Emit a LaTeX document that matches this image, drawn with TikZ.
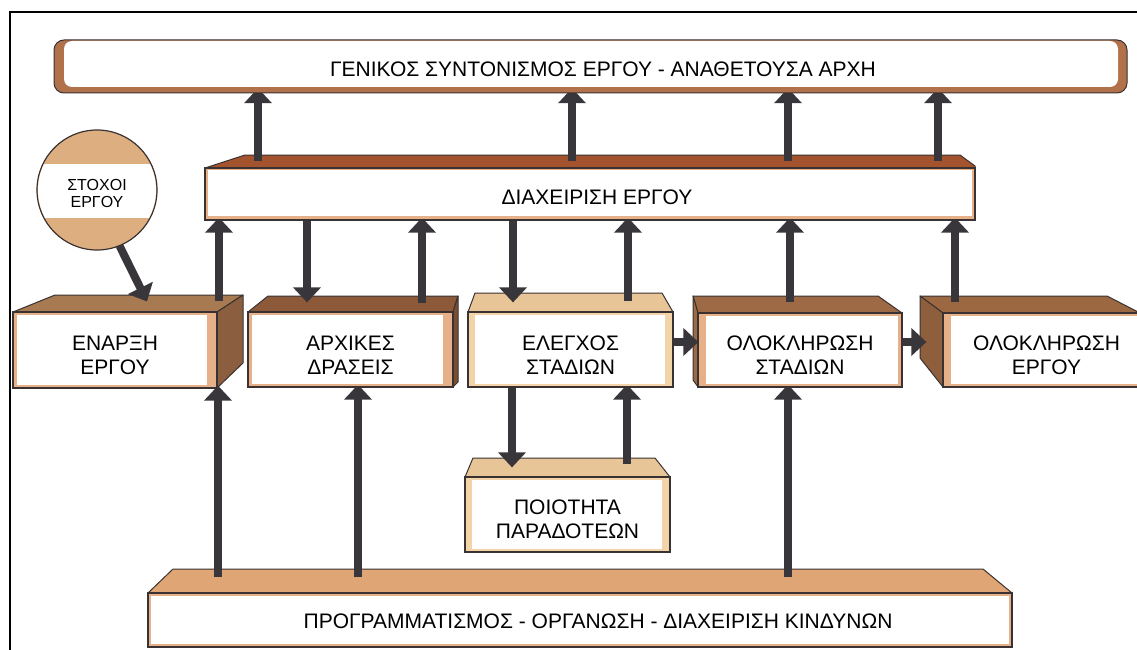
\documentclass[tikz,border=0pt]{standalone}
\usepackage{fontspec}
\setmainfont{Liberation Sans}
\usetikzlibrary{arrows.meta}
\pgfdeclarelayer{background}
\pgfdeclarelayer{foreground}
\pgfsetlayers{background,main,foreground}
\definecolor{dk}{HTML}{3A3232}
\definecolor{arrc}{HTML}{38363B}
\definecolor{genbr}{HTML}{B0714B}
\definecolor{diaxtop}{HTML}{A4532F}
\definecolor{enartop}{HTML}{A87A52}
\definecolor{enarside}{HTML}{8A5E3E}
\definecolor{arxtop}{HTML}{8C5A38}
\definecolor{arxside}{HTML}{7A4E30}
\definecolor{tantop}{HTML}{E8C596}
\definecolor{olstop}{HTML}{9E6A45}
\definecolor{olergtop}{HTML}{9C6842}
\definecolor{olergside}{HTML}{8E5F3C}
\definecolor{progtop}{HTML}{DFA574}
\definecolor{circ}{HTML}{DDAE80}
\definecolor{stripeB}{HTML}{E6B088}
\definecolor{stripeT}{HTML}{F2D4A8}
\newcommand{\upstrut}{\rule{0pt}{25pt}}
\begin{document}
\begin{tikzpicture}[x=1pt,y=-1pt,
  front/.style={draw=dk,line width=1.2pt,inner sep=0pt,align=center,font=\fontsize{21}{24}\selectfont},
  inset/.style n args={4}{path picture={\fill[white] ([xshift=#1,yshift=#4]path picture bounding box.south west) rectangle ([xshift=-#2,yshift=-#3]path picture bounding box.north east);}},
  face/.style={draw=dk,line width=1pt,line join=round},
  arr/.style={draw=arrc,line width=8pt,-{Triangle[width=27pt,length=15pt]}},
  bigtext/.style={font=\fontsize{21}{24}\selectfont,inner sep=0pt}]
\useasboundingbox (0,0) rectangle (1137,650);

% ---------- front faces (foreground) ----------
\begin{pgfonlayer}{foreground}
\fill[genbr,draw=dk,line width=1pt,rounded corners=10pt] (54,40) rectangle (1127,93);
\node[fill=white,rounded corners=8pt,minimum width=1054pt,minimum height=46pt,inner sep=0pt] (gen) at (591,64) {};
\node[bigtext] (gentext) at (603,69) {ΓΕΝΙΚΟΣ ΣΥΝΤΟΝΙΣΜΟΣ ΕΡΓΟΥ - ΑΝΑΘΕΤΟΥΣΑ ΑΡΧΗ};

\node[front,fill=stripeB,inset={3pt}{3pt}{2pt}{4pt},minimum width=770pt,minimum height=52pt] (diax) at (590,194) {};
\node[bigtext] (diaxtext) at (597,197) {ΔΙΑΧΕΙΡΙΣΗ ΕΡΓΟΥ};

% goal circle: brown disc with a white band
\filldraw[fill=circ,draw=dk,line width=1.2pt] (97,190) circle[radius=60pt];
\begin{scope}
  \clip (97,190) circle[radius=59pt];
  \fill[white] (20,164) rectangle (180,218);
\end{scope}
\node[circle,minimum size=120pt,inner sep=0pt,align=center,
  font=\fontsize{16}{17}\selectfont] (goal) at (97,190) {\rule{0pt}{18pt}ΣΤΟΧΟΙ\\ΕΡΓΟΥ};

\node[front,fill=stripeB,inset={4pt}{10pt}{3pt}{3pt},minimum width=204pt,minimum height=76pt] (enarxi) at (115,350) {\upstrut ΕΝΑΡΞΗ\\ΕΡΓΟΥ};
\node[front,fill=stripeB,inset={4pt}{10pt}{3pt}{3pt},minimum width=205pt,minimum height=75pt] (arxikes) at (350.5,349.5) {\upstrut ΑΡΧΙΚΕΣ\\ΔΡΑΣΕΙΣ};
\node[front,fill=stripeT,inset={7pt}{8pt}{3pt}{3pt},minimum width=205pt,minimum height=75pt] (elegxos) at (570.5,349.5) {\upstrut ΕΛΕΓΧΟΣ\\ΣΤΑΔΙΩΝ};
\node[front,fill=stripeB,inset={8pt}{4pt}{3pt}{3pt},minimum width=204pt,minimum height=74pt] (oloklst) at (800,350) {\upstrut ΟΛΟΚΛΗΡΩΣΗ\\ΣΤΑΔΙΩΝ};
\node[front,fill=stripeB,inset={8pt}{4pt}{3pt}{3pt},minimum width=207pt,minimum height=74pt] (oloklerg) at (1046.5,350) {\upstrut ΟΛΟΚΛΗΡΩΣΗ\\ΕΡΓΟΥ};
\node[front,fill=stripeT,inset={7pt}{8pt}{3pt}{3pt},minimum width=205pt,minimum height=75pt] (poiotita) at (567.5,514.5) {\upstrut ΠΟΙΟΤΗΤΑ\\ΠΑΡΑΔΟΤΕΩΝ};
\node[front,fill=stripeB,inset={3pt}{3pt}{3pt}{3pt},minimum width=864pt,minimum height=54pt] (prog) at (580,620) {};
\node[bigtext] (progtext) at (598,621) {ΠΡΟΓΡΑΜΜΑΤΙΣΜΟΣ - ΟΡΓΑΝΩΣΗ - ΔΙΑΧΕΙΡΙΣΗ ΚΙΝΔΥΝΩΝ};
\end{pgfonlayer}

% ---------- top and side faces (background) ----------
\begin{pgfonlayer}{background}
\fill[white] (0,0) rectangle (1137,650);
\filldraw[face,fill=diaxtop] (205,168) -- (245,155) -- (960,155) -- (975,166) -- (975,168) -- cycle;
\filldraw[face,fill=enartop] (13,312) -- (55,295) -- (243,295) -- (217,312) -- cycle;
\filldraw[face,fill=enarside] (217,312) -- (243,295) -- (243,363) -- (217,388) -- cycle;
\filldraw[face,fill=arxtop] (248,312) -- (268,296) -- (458,296) -- (453,312) -- cycle;
\filldraw[face,fill=arxside] (453,312) -- (458,296) -- (458,382) -- (453,387) -- cycle;
\filldraw[face,fill=tantop] (468,312) -- (475,293) -- (662,293) -- (673,312) -- cycle;
\filldraw[face,fill=olstop] (693,296) -- (878,296) -- (902,313) -- (698,313) -- cycle;
\filldraw[face,fill=olstop] (693,296) -- (698,313) -- (698,387) -- (693,380) -- cycle;
\filldraw[face,fill=olergtop] (920,296) -- (1107,296) -- (1140,313) -- (943,313) -- cycle;
\filldraw[face,fill=olergside] (920,296) -- (943,313) -- (943,387) -- (920,358) -- cycle;
\filldraw[face,fill=tantop] (465,477) -- (473,458) -- (655,458) -- (670,477) -- cycle;
\filldraw[face,fill=progtop] (148,593) -- (173,569) -- (983,569) -- (1012,593) -- cycle;
\end{pgfonlayer}

% ---------- frame ----------
\draw[line width=2.5pt] (10,700) -- (10,12) -- (1160,12);

% ---------- connectors ----------
% DIAXEIRISI -> GENIKOS
\foreach \dx in {-332,-18,198,348}{
  \draw[arr] ([xshift=\dx pt,yshift=6pt]diax.north) -- ([xshift=\dx pt,yshift=-1pt]diax.north |- gen.south);
}
% boxes <-> DIAXEIRISI
\draw[arr] ([xshift=104pt,yshift=10pt]enarxi.north) -- ([xshift=104pt,yshift=3pt]enarxi.north |- diax.south);
\draw[arr] ([xshift=-43.5pt,yshift=4pt]arxikes.north |- diax.south) -- ([xshift=-43.5pt,yshift=9pt]arxikes.north);
\draw[arr] ([xshift=71.5pt,yshift=8pt]arxikes.north) -- ([xshift=71.5pt,yshift=3pt]arxikes.north |- diax.south);
\draw[arr] ([xshift=-57.5pt,yshift=4pt]elegxos.north |- diax.south) -- ([xshift=-57.5pt,yshift=9pt]elegxos.north);
\draw[arr] ([xshift=57.5pt,yshift=10pt]elegxos.north) -- ([xshift=57.5pt,yshift=3pt]elegxos.north |- diax.south);
\draw[arr] ([xshift=-10pt,yshift=10pt]oloklst.north) -- ([xshift=-10pt,yshift=3pt]oloklst.north |- diax.south);
\draw[arr] ([xshift=-91.5pt,yshift=10pt]oloklerg.north) -- ([xshift=-91.5pt,yshift=3pt]oloklerg.north |- diax.south);
% goals -> start
\draw[arr] (goal.-68) -- ([xshift=32pt,yshift=10pt]enarxi.north);
% horizontal flow
\draw[arr] ([yshift=7.5pt]elegxos.east) -- ([xshift=1pt,yshift=8pt]oloklst.west);
\draw[arr] ([yshift=8pt]oloklst.east) -- ([xshift=-16pt,yshift=8pt]oloklerg.west);
% ELEGXOS <-> POIOTITA
\draw[arr] ([xshift=-58.5pt,yshift=2pt]elegxos.south) -- ([xshift=-55.5pt,yshift=9pt]poiotita.north);
\draw[arr] ([xshift=59.5pt,yshift=12pt]poiotita.north) -- ([xshift=56.5pt,yshift=3pt]elegxos.south);
% PROGRAMMATISMOS -> boxes
\draw[arr] ([xshift=-362pt,yshift=15pt]prog.north) -- ([xshift=103pt,yshift=3pt]enarxi.south);
\draw[arr] ([xshift=-222pt,yshift=15pt]prog.north) -- ([xshift=7.5pt,yshift=3pt]arxikes.south);
\draw[arr] ([xshift=208pt,yshift=15pt]prog.north) -- ([xshift=-12pt,yshift=3pt]oloklst.south);
\end{tikzpicture}
\end{document}
